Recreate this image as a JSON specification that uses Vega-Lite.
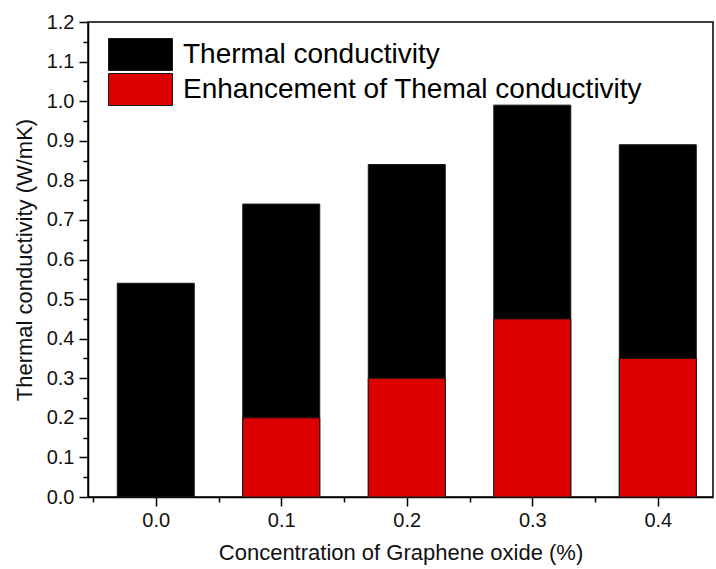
{
  "$schema": "https://vega.github.io/schema/vega-lite/v6.json",
  "width": 625,
  "height": 475,
  "autosize": {"type": "none"},
  "padding": {"left": 88, "top": 22, "right": 3, "bottom": 72},
  "background": "white",
  "config": {
    "font": "Liberation Sans",
    "view": {"stroke": "black", "strokeWidth": 1.5},
    "axis": {"grid": false, "domainColor": "black", "domainWidth": 1.5, "tickColor": "black", "tickWidth": 1.5, "labelColor": "#111", "titleColor": "#111", "labelFont": "Liberation Sans", "titleFont": "Liberation Sans", "titleFontWeight": "normal"}
  },
  "data": {
    "values": [
      {"conc": 0.0, "series": "Thermal conductivity", "value": 0.54},
      {"conc": 0.1, "series": "Thermal conductivity", "value": 0.74},
      {"conc": 0.2, "series": "Thermal conductivity", "value": 0.84},
      {"conc": 0.3, "series": "Thermal conductivity", "value": 0.99},
      {"conc": 0.4, "series": "Thermal conductivity", "value": 0.89},
      {"conc": 0.1, "series": "Enhancement of Themal conductivity", "value": 0.2},
      {"conc": 0.2, "series": "Enhancement of Themal conductivity", "value": 0.3},
      {"conc": 0.3, "series": "Enhancement of Themal conductivity", "value": 0.45},
      {"conc": 0.4, "series": "Enhancement of Themal conductivity", "value": 0.35}
    ]
  },
  "mark": {"type": "bar", "size": 77, "stroke": "#1a1a1a", "strokeWidth": 1},
  "encoding": {
    "x": {
      "field": "conc", "type": "quantitative",
      "scale": {"domain": [-0.05, 0.44], "nice": false, "zero": false},
      "axis": {
        "title": "Concentration of Graphene oxide (%)",
        "values": [-0.05, 0, 0.05, 0.1, 0.15, 0.2, 0.25, 0.3, 0.35, 0.4],
        "labelExpr": "abs(datum.value*10 - round(datum.value*10)) < 0.001 ? format(datum.value, '.1f') : ''",
        "tickSize": {"condition": {"test": "abs(datum.value*10 - round(datum.value*10)) < 0.001", "value": 9}, "value": 5},
        "labelFontSize": 20, "labelPadding": 4, "titleFontSize": 22, "titlePadding": 12, "labelFlush": false, "labelOverlap": false
      }
    },
    "y": {
      "field": "value", "type": "quantitative", "stack": null,
      "scale": {"domain": [0, 1.2], "nice": false},
      "axis": {
        "title": "Thermal conductivity (W/mK)",
        "values": [0, 0.05, 0.1, 0.15, 0.2, 0.25, 0.3, 0.35, 0.4, 0.45, 0.5, 0.55, 0.6, 0.65, 0.7, 0.75, 0.8, 0.85, 0.9, 0.95, 1.0, 1.05, 1.1, 1.15, 1.2],
        "labelExpr": "abs(datum.value*10 - round(datum.value*10)) < 0.001 ? format(datum.value, '.1f') : ''",
        "tickSize": {"condition": {"test": "abs(datum.value*10 - round(datum.value*10)) < 0.001", "value": 9}, "value": 5},
        "labelFontSize": 20, "labelPadding": 5, "titleFontSize": 22, "titlePadding": 10, "labelFlush": false, "labelOverlap": false
      }
    },
    "color": {
      "field": "series", "type": "nominal",
      "scale": {"domain": ["Thermal conductivity", "Enhancement of Themal conductivity"], "range": ["#000000", "#dd0000"]},
      "legend": {
        "title": null, "orient": "none", "legendX": 20, "legendY": 16, "padding": 0,
        "symbolType": "M-1,-1H3V1H-1Z", "symbolSize": 1024, "symbolStrokeColor": "#1a1a1a", "symbolStrokeWidth": 1, "symbolOpacity": 1,
        "labelFontSize": 28, "labelColor": "#000", "labelOffset": 42, "labelLimit": 700, "rowPadding": -2
      }
    }
  }
}
